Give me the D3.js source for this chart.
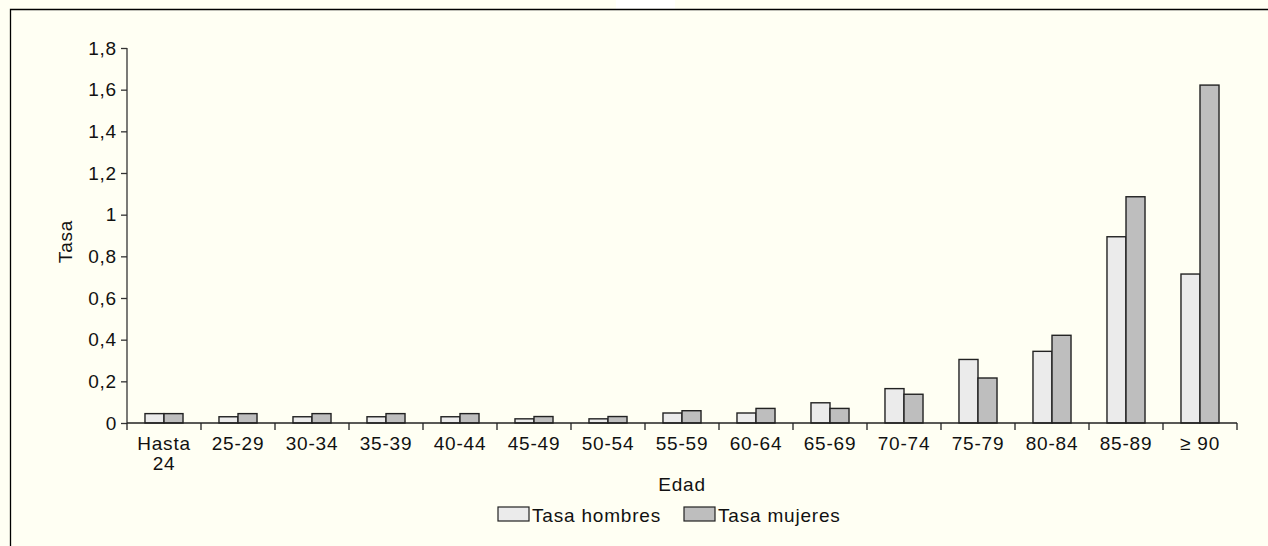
<!DOCTYPE html>
<html>
<head>
<meta charset="utf-8">
<script src="https://cdn.jsdelivr.net/npm/d3@7"></script>
<style>
  body { margin: 0; background: #fffff3; }
  svg { display: block; font-family: "Liberation Sans", Arial, Helvetica, sans-serif; }
  svg text { letter-spacing: 0.8px; }
</style>
</head>
<body>
<div id="chart"></div>
<script>
const categories = ["Hasta 24", "25-29", "30-34", "35-39", "40-44", "45-49", "50-54", "55-59",
  "60-64", "65-69", "70-74", "75-79", "80-84", "85-89", "\u2265 90"];
const hombres = [0.045, 0.03, 0.03, 0.03, 0.03, 0.02, 0.02, 0.048, 0.048, 0.097, 0.165, 0.305, 0.344, 0.894, 0.715];
const mujeres = [0.045, 0.045, 0.045, 0.045, 0.045, 0.031, 0.031, 0.059, 0.07, 0.07, 0.138, 0.216, 0.421, 1.086, 1.622];
const seriesNames = ["Tasa hombres", "Tasa mujeres"];
const seriesColors = ["#ebebeb", "#bebebe"];
const yTicks = [0, 0.2, 0.4, 0.6, 0.8, 1, 1.2, 1.4, 1.6, 1.8];

const width = 1268, height = 546;
const margin = { top: 48, right: 31, bottom: 123, left: 127 };
const w = width - margin.left - margin.right,
  h = height - margin.top - margin.bottom;
const fs = 19;

const svg = d3.select("#chart").append("svg")
  .attr("width", width)
  .attr("height", height);

// background + frame
svg.append("rect").attr("width", width).attr("height", height).attr("fill", "#fffff3");
svg.append("rect").attr("x", 616).attr("y", 0).attr("width", 59).attr("height", 9).attr("fill", "#ffffff");
svg.append("path")
  .attr("d", "M10.5," + height + "V9.5H" + width)
  .attr("fill", "none")
  .attr("stroke", "#000")
  .attr("stroke-width", 1.3);

const g = svg.append("g").attr("transform", `translate(${margin.left},${margin.top})`);

const x0 = d3.scaleBand().domain(categories).range([0, w]).padding(0);
const x1 = d3.scaleBand().domain(seriesNames)
  .range([x0.bandwidth() * 0.243, x0.bandwidth() * 0.757]);
const y = d3.scaleLinear().domain([0, 1.8]).range([h, 0]);

const fmt = d => String(d).replace(".", ",");

// y axis
const yAxis = g.append("g")
  .call(d3.axisLeft(y).tickValues(yTicks).tickFormat(fmt).tickSize(6).tickPadding(4));
yAxis.select(".domain").attr("stroke", "#333").attr("stroke-width", 1.3).attr("d", `M0,${h}V0`);
yAxis.selectAll(".tick line").attr("stroke", "#333").attr("stroke-width", 1.3);
yAxis.selectAll("text").attr("font-size", fs).attr("fill", "#111")
  .attr("font-family", "Liberation Sans, Arial, sans-serif");

// bars
const data = categories.map((c, i) => ({ cat: c, vals: [hombres[i], mujeres[i]] }));
const groups = g.selectAll(".grp").data(data).enter().append("g")
  .attr("class", "grp")
  .attr("transform", d => `translate(${x0(d.cat)},0)`);
groups.selectAll("rect")
  .data(d => d.vals.map((v, j) => ({ s: seriesNames[j], v: v, j: j })))
  .enter().append("rect")
  .attr("x", d => x1(d.s))
  .attr("y", d => y(d.v))
  .attr("width", x1.bandwidth())
  .attr("height", d => h - y(d.v))
  .attr("fill", d => seriesColors[d.j])
  .attr("stroke", "#222")
  .attr("stroke-width", 1.4);

// x axis with ticks at category boundaries
const xAxis = g.append("g").attr("transform", `translate(0,${h})`);
xAxis.append("line").attr("x1", 0).attr("x2", w).attr("stroke", "#222").attr("stroke-width", 1.4);
xAxis.selectAll(".xt")
  .data(categories.concat(["end"]))
  .enter().append("line")
  .attr("x1", (d, i) => i * x0.step())
  .attr("x2", (d, i) => i * x0.step())
  .attr("y1", 0).attr("y2", 7)
  .attr("stroke", "#222").attr("stroke-width", 1.3);
xAxis.selectAll(".xl")
  .data(categories)
  .enter().append("text")
  .attr("text-anchor", "middle")
  .attr("font-size", fs)
  .attr("fill", "#111")
  .attr("transform", d => `translate(${x0(d) + x0.bandwidth() / 2},27)`)
  .each(function (d) {
    const parts = d === "Hasta 24" ? ["Hasta", "24"] : [d];
    d3.select(this).selectAll("tspan").data(parts).enter().append("tspan")
      .attr("x", 0).attr("dy", (p, k) => k === 0 ? 0 : 20).text(p => p);
  });

// axis titles
g.append("text")
  .attr("x", w / 2).attr("y", h + 68)
  .attr("text-anchor", "middle").attr("font-size", fs).attr("fill", "#111")
  .text("Edad");
g.append("text")
  .attr("transform", `translate(${-55},${h / 2 + 6}) rotate(-90)`)
  .attr("text-anchor", "middle").attr("font-size", fs).attr("fill", "#111")
  .text("Tasa");

// legend
const legend = svg.append("g").attr("transform", "translate(498,507)");
const lx = [0, 186];
seriesNames.forEach((s, i) => {
  const it = legend.append("g").attr("transform", `translate(${lx[i]},0)`);
  it.append("rect").attr("width", 31).attr("height", 14)
    .attr("fill", seriesColors[i]).attr("stroke", "#222").attr("stroke-width", 1.2);
  it.append("text").attr("x", 34).attr("y", 15)
    .attr("font-size", fs).attr("fill", "#111").text(s);
});
</script>
</body>
</html>
